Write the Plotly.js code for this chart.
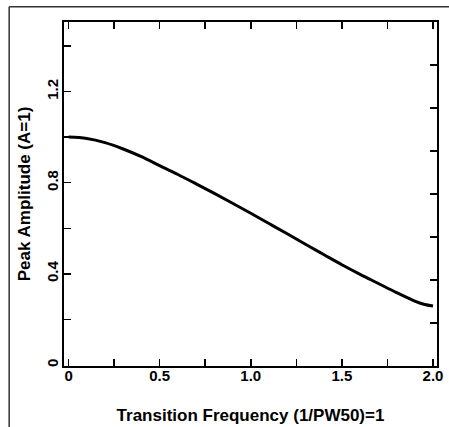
<!DOCTYPE html>
<html>
<head>
<meta charset="utf-8">
<script src="https://cdn.plot.ly/plotly-3.0.1.min.js"></script>
<style>html,body{margin:0;padding:0;background:#fff;}#chart{width:449px;height:427px;}</style>
</head>
<body>
<div id="chart"></div>
<script>
// Data
const freq = [0, 0.1, 0.2, 0.3, 0.4, 0.5, 0.6, 0.7, 0.8, 0.9, 1.0, 1.1, 1.2, 1.3, 1.4, 1.5, 1.6, 1.7, 1.8, 1.9, 1.95, 2.0];
const amplitude = [1.0, 0.994, 0.976, 0.948, 0.914, 0.875, 0.836, 0.795, 0.753, 0.710, 0.666, 0.621, 0.576, 0.530, 0.485, 0.440, 0.398, 0.358, 0.318, 0.281, 0.267, 0.259];
const xTickVals = [0, 0.25, 0.5, 0.75, 1.0, 1.25, 1.5, 1.75, 2.0];
const xTickText = ["0", "", "0.5", "", "1.0", "", "1.5", "", "2.0"];
const yTickVals = [0, 0.2, 0.4, 0.6, 0.8, 1.0, 1.2, 1.4];
const yTickText = ["0", "", "0.4", "", "0.8", "", "1.2", ""];
const rightTickVals = [1, 2, 3, 4, 5, 6, 7];

const font = {family: "Liberation Sans, Arial, sans-serif", color: "#000"};

const traces = [{
  x: freq, y: amplitude, type: "scatter", mode: "lines",
  line: {color: "#000", width: 3, shape: "spline", smoothing: 1},
  hoverinfo: "skip", showlegend: false
}];

const layout = {
  width: 449, height: 427,
  margin: {l: 64, r: 12, t: 22, b: 61},
  paper_bgcolor: "#fff", plot_bgcolor: "#fff",
  font: font,
  showlegend: false,
  xaxis: {
    range: [-0.025, 2.022],
    tickvals: xTickVals, ticktext: xTickText,
    ticks: "inside", ticklen: 7, tickwidth: 1.5, tickcolor: "#000",
    ticklabelstandoff: -5,
    showline: true, linecolor: "#000", linewidth: 2, mirror: "ticks",
    showgrid: false, zeroline: false,
    tickfont: {family: font.family, size: 15, weight: "bold", color: "#000"},
    title: {text: "Transition Frequency (1/PW50)=1", standoff: 26,
            font: {family: font.family, size: 17, weight: "bold", color: "#000"}}
  },
  yaxis: {
    range: [-0.004, 1.505],
    tickvals: yTickVals, ticktext: yTickText,
    ticks: "inside", ticklen: 7, tickwidth: 1.5, tickcolor: "#000",
    tickangle: -90,
    ticklabelstandoff: -2,
    showline: true, linecolor: "#000", linewidth: 2, mirror: true,
    showgrid: false, zeroline: false,
    tickfont: {family: font.family, size: 15, weight: "bold", color: "#000"},
    title: {text: "Peak Amplitude (A=1)", standoff: 9,
            font: {family: font.family, size: 17, weight: "bold", color: "#000"}}
  },
  yaxis2: {
    overlaying: "y", side: "right", range: [0, 8],
    tickvals: rightTickVals, showticklabels: false,
    ticks: "inside", ticklen: 7, tickwidth: 1.5, tickcolor: "#000",
    showline: false, showgrid: false, zeroline: false
  },
  shapes: [
    {type: "line", xref: "paper", yref: "paper", x0: -0.147, x1: 1.05, y0: 1.044, y1: 1.044, line: {color: "#333", width: 1.5}},
    {type: "line", xref: "paper", yref: "paper", x0: -0.147, x1: -0.147, y0: 1.044, y1: -0.2, line: {color: "#333", width: 1.5}}
  ]
};

// invisible trace that activates the right-hand tick axis
traces.push({x: [0], y: [0], yaxis: "y2", type: "scatter", mode: "markers", marker: {opacity: 0}, hoverinfo: "skip", showlegend: false});

Plotly.newPlot("chart", traces, layout, {staticPlot: true, displayModeBar: false});
</script>
</body>
</html>
